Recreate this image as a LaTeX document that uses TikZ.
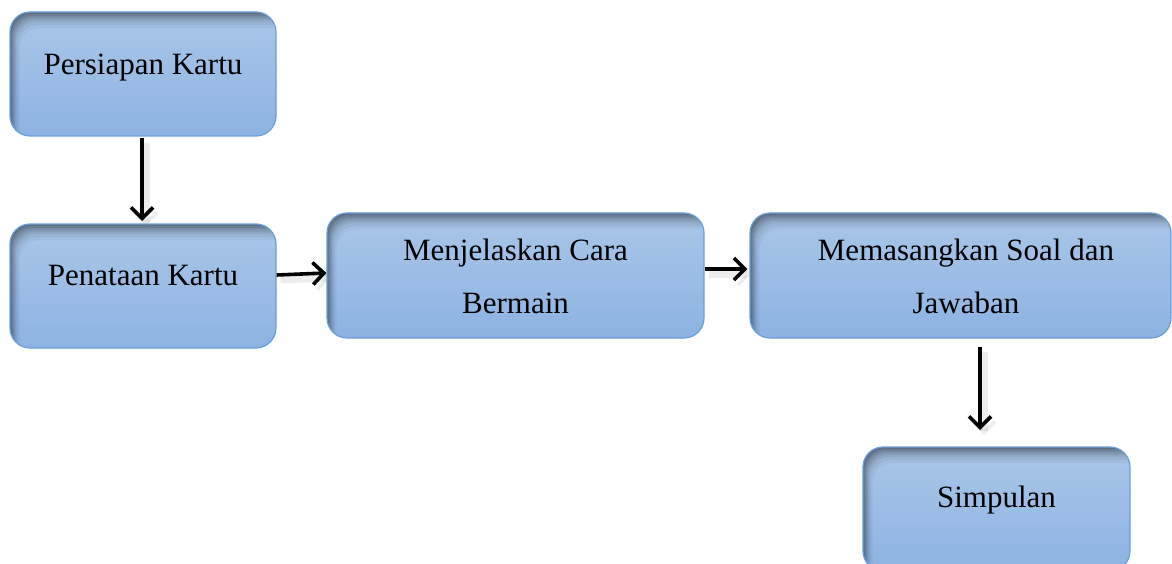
\documentclass[tikz,border=0pt]{standalone}
\usepackage{fontspec}
\setmainfont{Liberation Serif}
\usetikzlibrary{arrows.meta}
\definecolor{boxtop}{HTML}{AAC6E9}
\definecolor{boxbot}{HTML}{8DB3E2}
\definecolor{boxline}{HTML}{6A9FD8}
\tikzset{
  flowbox/.style={rounded corners=20pt, draw=boxline, line width=1.2pt,
    top color=boxtop, bottom color=boxbot, inner sep=0pt,
    path picture={
      \foreach \d/\o in {2/0.12,4/0.10,6/0.09,8/0.07,10/0.06,13/0.05,16/0.04}{
        \fill[black,opacity=\o,even odd rule]
          ([shift={(-60pt,60pt)}]path picture bounding box.north west) rectangle
          ([shift={(60pt,-60pt)}]path picture bounding box.south east)
          [rounded corners=20pt]
          ([shift={(0.6*\d pt,-1.0*\d pt)}]path picture bounding box.north west) rectangle
          ([shift={(0.6*\d pt+80pt,-1.0*\d pt-80pt)}]path picture bounding box.south east);
      }
    }},
  boxtext/.style={font=\fontsize{31}{53}\selectfont, align=center, text=black, inner sep=0pt},
  flowarrow/.style={line width=3.6pt, -{Straight Barb[length=11pt,width=22pt,line width=3.6pt]},
    preaction={draw=black!40, opacity=0.18, line width=7pt, transform canvas={shift={(4pt,-5pt)}}}}
}
\begin{document}
\begin{tikzpicture}[x=1pt,y=-1pt]
\useasboundingbox (0,0) rectangle (1172,564);
\node[flowbox, minimum width=266pt, minimum height=124pt] (b1) at (143,74) {};
\node[flowbox, minimum width=266pt, minimum height=124pt] (b2) at (143,286) {};
\node[flowbox, minimum width=377pt, minimum height=125pt] (b3) at (515.5,275.5) {};
\node[flowbox, minimum width=421pt, minimum height=125pt] (b4) at (960.5,275.5) {};
\node[flowbox, minimum width=267pt, minimum height=124pt] (b5) at (996.5,509) {};
\node[boxtext] (t1) at (143,68) {Persiapan Kartu};
\node[boxtext] (t2) at (143,276) {Penataan Kartu};
\node[boxtext] (t3) at (515.5,276) {Menjelaskan Cara\\Bermain};
\node[boxtext] (t4) at (966,276) {Memasangkan Soal dan\\Jawaban};
\node[boxtext] (t5) at (996.5,500) {Simpulan};
\coordinate (a1s) at (142,138);
\coordinate (a1e) at (142,221);
\draw[flowarrow] (a1s) -- (a1e);
\draw[flowarrow] ([yshift=11pt]b2.east) -- ([yshift=2.5pt]b3.west);
\draw[flowarrow] ([yshift=6.5pt]b3.east) -- ([yshift=6.5pt,xshift=-2pt]b4.west);
\coordinate (a4s) at (980,347);
\coordinate (a4e) at (980,430);
\draw[flowarrow] (a4s) -- (a4e);
\end{tikzpicture}
\end{document}
